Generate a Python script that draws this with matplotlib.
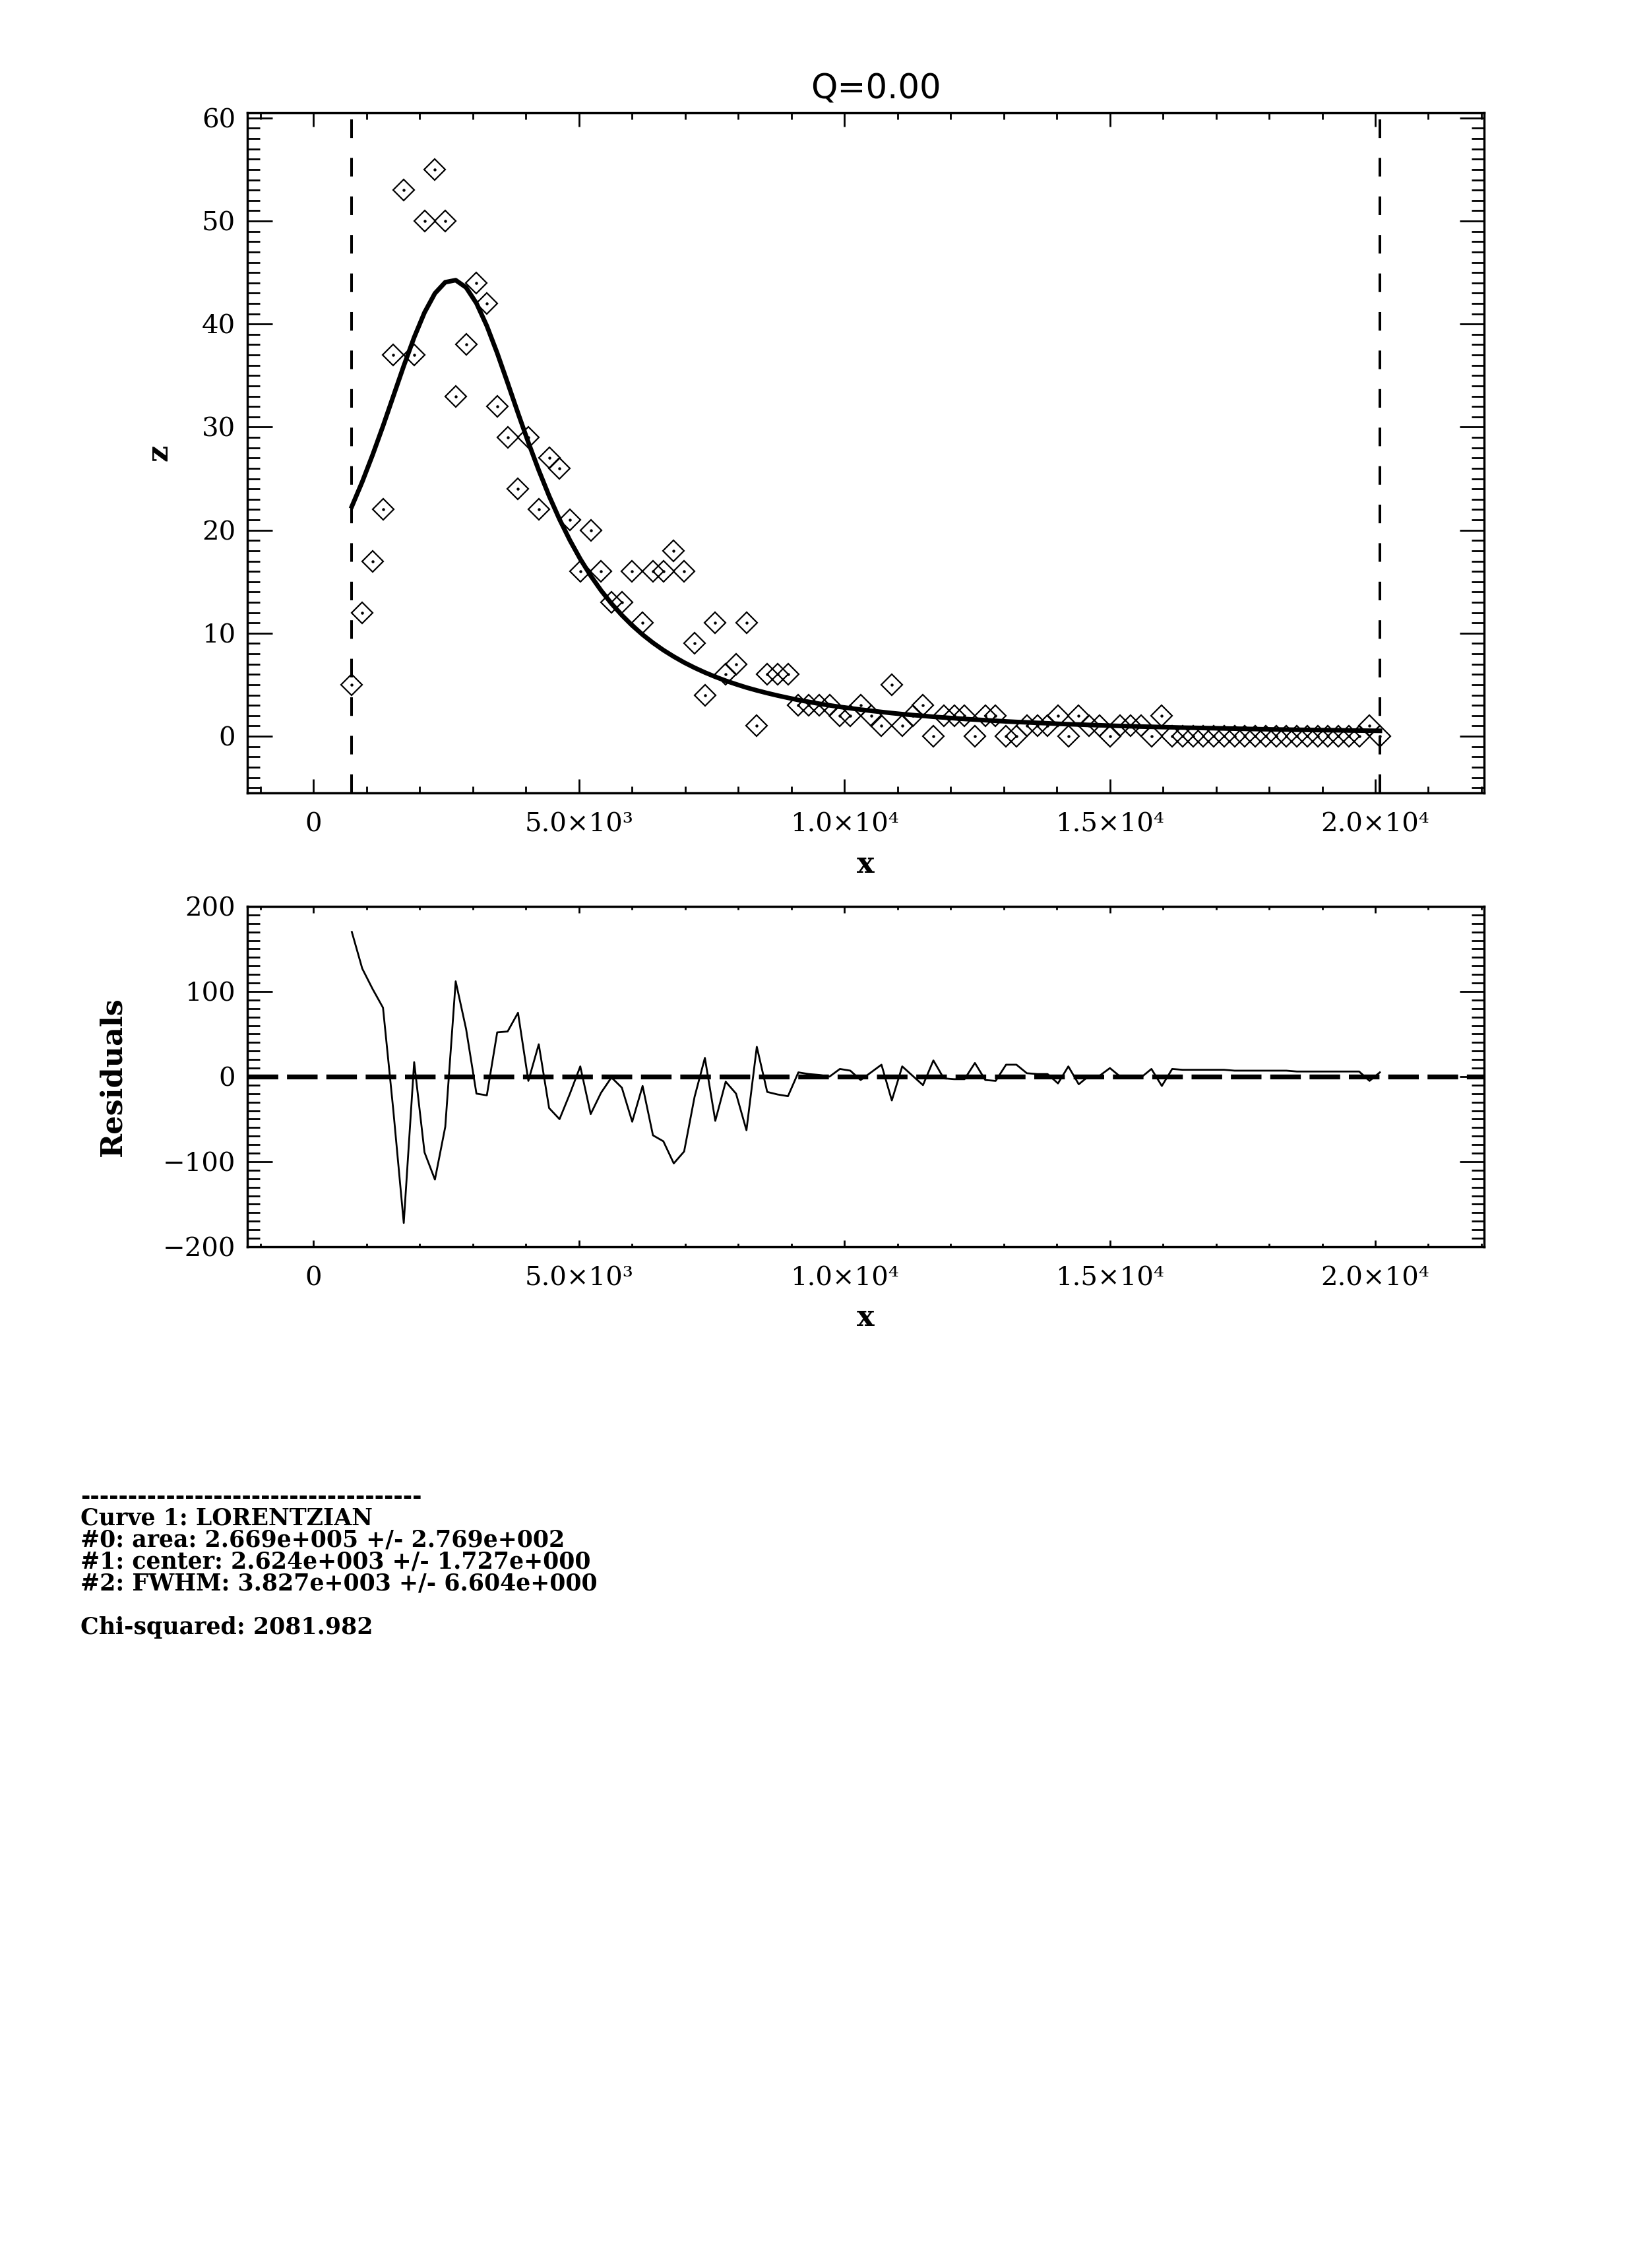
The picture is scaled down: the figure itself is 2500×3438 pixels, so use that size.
import matplotlib
matplotlib.use("Agg")
import matplotlib.pyplot as plt
from matplotlib.ticker import MultipleLocator

# data points (x, counts)
x = [723, 919, 1114, 1310, 1505, 1701, 1897, 2092, 2288, 2483,
     2679, 2875, 3070, 3266, 3461, 3657, 3853, 4048, 4244, 4439,
     4635, 4831, 5026, 5222, 5417, 5613, 5809, 6004, 6200, 6395,
     6591, 6787, 6982, 7178, 7373, 7569, 7765, 7960, 8156, 8351,
     8547, 8743, 8938, 9134, 9329, 9525, 9721, 9916, 10112, 10307,
     10503, 10699, 10894, 11090, 11285, 11481, 11677, 11872, 12068, 12263,
     12459, 12655, 12850, 13046, 13241, 13437, 13633, 13828, 14024, 14219,
     14415, 14611, 14806, 15002, 15197, 15393, 15589, 15784, 15980, 16175,
     16371, 16567, 16762, 16958, 17153, 17349, 17545, 17740, 17936, 18131,
     18327, 18523, 18718, 18914, 19109, 19305, 19501, 19696, 19892, 20087]

z = [5, 12, 17, 22, 37, 53, 37, 50, 55, 50,
     33, 38, 44, 42, 32, 29, 24, 29, 22, 27,
     26, 21, 16, 20, 16, 13, 13, 16, 11, 16,
     16, 18, 16, 9, 4, 11, 6, 7, 11, 1,
     6, 6, 6, 3, 3, 3, 3, 2, 2, 3,
     2, 1, 5, 1, 2, 3, 0, 2, 2, 2,
     0, 2, 2, 0, 0, 1, 1, 1, 2, 0,
     2, 1, 1, 0, 1, 1, 1, 0, 2, 0,
     0, 0, 0, 0, 0, 0, 0, 0, 0, 0,
     0, 0, 0, 0, 0, 0, 0, 0, 1, 0]

# fitted curve as drawn
zfit = [22.30, 24.69, 27.30, 30.10, 33.01, 35.94, 38.71, 41.12, 42.98, 44.06,
        44.26, 43.55, 42.02, 39.82, 37.19, 34.30, 31.36, 28.51, 25.81, 23.32,
        21.05, 19.01, 17.20, 15.58, 14.15, 12.88, 11.75, 10.75, 9.86, 9.07,
        8.36, 7.73, 7.16, 6.65, 6.19, 5.77, 5.39, 5.05, 4.73, 4.45,
        4.19, 3.95, 3.73, 3.52, 3.34, 3.16, 3.00, 2.85, 2.72, 2.59,
        2.47, 2.36, 2.25, 2.15, 2.06, 1.98, 1.89, 1.82, 1.75, 1.68,
        1.62, 1.56, 1.50, 1.44, 1.39, 1.35, 1.30, 1.26, 1.21, 1.17,
        1.14, 1.10, 1.07, 1.03, 1.00, 0.97, 0.94, 0.92, 0.89, 0.87,
        0.84, 0.82, 0.80, 0.78, 0.76, 0.74, 0.72, 0.70, 0.68, 0.66,
        0.65, 0.63, 0.62, 0.60, 0.59, 0.58, 0.56, 0.55, 0.54, 0.53]

# residuals panel
resid = [170, 127, 103, 81, -40, -172, 17, -89, -121, -59,
         112, 56, -20, -22, 52, 53, 75, -5, 38, -37,
         -50, -20, 12, -44, -19, -1, -13, -53, -11, -69,
         -76, -102, -88, -24, 22, -52, -6, -20, -63, 35,
         -18, -21, -23, 5, 3, 2, 0, 9, 7, -4,
         5, 14, -28, 12, 1, -10, 19, -2, -3, -3,
         16, -4, -5, 14, 14, 4, 3, 3, -8, 12,
         -9, 1, 1, 10, 0, 0, -1, 9, -11, 9,
         8, 8, 8, 8, 8, 7, 7, 7, 7, 7,
         7, 6, 6, 6, 6, 6, 6, 6, -5, 5]

title = "Q=0.00"
xtick_vals = [0, 5000, 10000, 15000, 20000]
xtick_labels = ["0", "5.0×10³", "1.0×10⁴", "1.5×10⁴", "2.0×10⁴"]
ztick_vals = [0, 10, 20, 30, 40, 50, 60]
rtick_vals = [-200, -100, 0, 100, 200]

separator = "-" * 36
fit_lines = ["Curve 1: LORENTZIAN",
             "#0: area: 2.669e+005 +/- 2.769e+002",
             "#1: center: 2.624e+003 +/- 1.727e+000",
             "#2: FWHM: 3.827e+003 +/- 6.604e+000"]
chi_text = "Chi-squared: 2081.982"

plt.rcParams["font.family"] = ["DejaVu Serif", "DejaVu Sans"]

W, H = 2500, 3438
fig = plt.figure(figsize=(W / 100, H / 100), dpi=100)
ax1 = fig.add_axes([375 / W, 1 - 1202 / H, 1875 / W, 1031 / H])
ax2 = fig.add_axes([375 / W, 1 - 1890 / H, 1875 / W, 516 / H])


def style(ax, xlen, ymin_step):
    for s in ax.spines.values():
        s.set_linewidth(2.5)
    ax.xaxis.set_minor_locator(MultipleLocator(1000))
    ax.yaxis.set_minor_locator(MultipleLocator(ymin_step))
    ax.tick_params(which="both", direction="in", top=True, right=True,
                   width=2.0, labelsize=29)
    ax.tick_params(axis="x", which="major", length=xlen, pad=21)
    ax.tick_params(axis="x", which="minor", length=xlen / 2)
    ax.tick_params(axis="y", which="major", length=27, pad=13)
    ax.tick_params(axis="y", which="minor", length=13.5)
    ax.set_xticks(xtick_vals, xtick_labels)
    ax.set_xlim(-1245, 22050)


# top panel: data and fit
ax1.plot(x, z, ls="none", marker="D", ms=16, mfc="none", mec="black", mew=1.6)
ax1.plot(x, z, ls="none", marker="o", ms=2.2, color="black")
ax1.plot(x, zfit, color="black", lw=5)
ax1.axvline(x[0], color="black", lw=2.9, ls=(0, (7, 7.5)))
ax1.axvline(x[-1], color="black", lw=2.9, ls=(0, (7, 7.5)))
style(ax1, 14.8, 1)
ax1.set_yticks(ztick_vals)
ax1.set_ylim(-5.5, 60.5)
ax1.set_xlabel("x", fontsize=32, fontweight="bold", va="center")
ax1.xaxis.set_label_coords(0.5, -0.1048)
ax1.set_ylabel("z", fontsize=32, fontweight="bold", va="center")
ax1.yaxis.set_label_coords(-0.0715, 0.5)
ax1.set_title(title, fontsize=37, family="DejaVu Sans", x=0.508, y=1.013,
              va="baseline")

# bottom panel: residuals
ax2.plot(x, resid, color="black", lw=2.0)
ax2.axhline(0, color="black", lw=5.3, ls=(0, (6.3, 1.8)))
style(ax2, 7.4, 10)
ax2.set_yticks(rtick_vals)
ax2.set_ylim(-200, 200)
ax2.set_xlabel("x", fontsize=32, fontweight="bold", va="center")
ax2.xaxis.set_label_coords(0.5, -0.2074)
ax2.set_ylabel("Residuals", fontsize=32, fontweight="bold", va="center")
ax2.yaxis.set_label_coords(-0.1088, 0.5)

# fit summary text, one block so the lines keep the same step
summary = "\n".join([separator] + fit_lines + ["", chi_text])
fig.text(122 / W, 1 - 2252 / H, summary, fontsize=25, fontweight="bold",
         va="top", ha="left", linespacing=0.96)

fig.savefig("out.png", dpi=100, facecolor="white")
